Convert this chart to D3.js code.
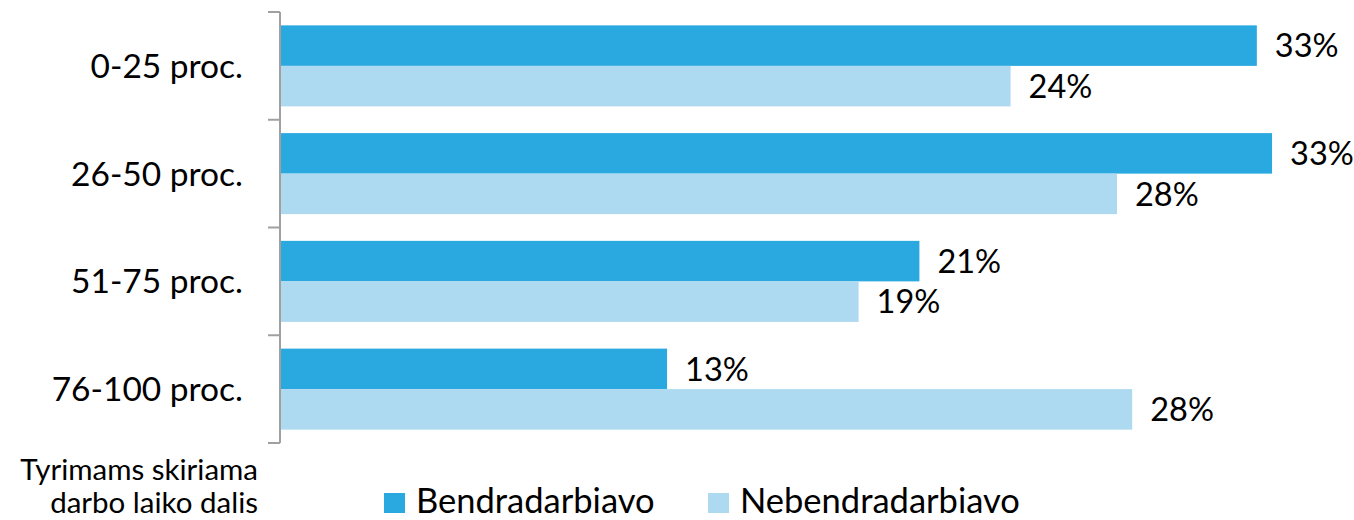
<!DOCTYPE html>
<html>
<head>
<meta charset="utf-8">
<script src="https://cdn.jsdelivr.net/npm/d3@7"></script>
<style>
  body { margin: 0; background: #fff; }
  svg text { font-family: Lato, "Noto Sans", sans-serif; fill: #000; }
</style>
</head>
<body>
<div id="chart"></div>
<script>
// categories (top to bottom)
const categories = ["0-25 proc.", "26-50 proc.", "51-75 proc.", "76-100 proc."];
const seriesNames = ["Bendradarbiavo", "Nebendradarbiavo"];
// bar lengths
const bendradarbiavo = [32.1, 32.6, 21.0, 12.7];
const nebendradarbiavo = [24.0, 27.5, 19.0, 28.0];
// data labels as printed on the chart
const bendradarbiavoLabels = ["33%", "33%", "21%", "13%"];
const nebendradarbiavoLabels = ["24%", "28%", "19%", "28%"];
const colors = ["#29a9e0", "#add9f1"];

const width = 1354, height = 520;

const svg = d3.select("#chart")
    .append("svg")
        .attr("width", width)
        .attr("height", height);

const x = d3.scaleLinear()
    .domain([0, 35])
    .range([281, 281 + 35 * 30.4]);

const y = d3.scaleBand()
    .domain(categories)
    .range([12, 443])
    .padding(0);

const ySub = d3.scaleBand()
    .domain(seriesNames)
    .range([0, y.bandwidth()])
    .paddingInner(0)
    .paddingOuter(0.33);

const rows = categories.map((c, i) => ({
    cat: c,
    bars: [
        {s: seriesNames[0], v: bendradarbiavo[i], label: bendradarbiavoLabels[i], color: colors[0]},
        {s: seriesNames[1], v: nebendradarbiavo[i], label: nebendradarbiavoLabels[i], color: colors[1]}
    ]
}));

// bars
const groups = svg.append("g")
    .selectAll("g")
    .data(rows)
    .enter()
    .append("g")
        .attr("transform", d => `translate(0, ${y(d.cat)})`);

groups.selectAll("rect")
    .data(d => d.bars)
    .enter()
    .append("rect")
        .attr("x", x(0))
        .attr("y", d => ySub(d.s))
        .attr("width", d => x(d.v) - x(0))
        .attr("height", ySub.bandwidth())
        .attr("fill", d => d.color);

groups.selectAll("text.val")
    .data(d => d.bars)
    .enter()
    .append("text")
        .attr("class", "val")
        .attr("x", d => x(d.v) + 18)
        .attr("y", d => ySub(d.s) + ySub.bandwidth() / 2)
        .attr("dy", "0.36em")
        .style("font-size", "32.5px")
        .text(d => d.label);

// y axis with outer ticks between categories
const axis = svg.append("g")
    .attr("transform", `translate(${x(0) - 1}, 0)`);

axis.append("line")
    .attr("x1", 0).attr("x2", 0)
    .attr("y1", 12).attr("y2", 443)
    .attr("stroke", "#a0a0a0")
    .attr("stroke-width", 2);

const tickYs = categories.map(c => y(c)).concat([y(categories[categories.length - 1]) + y.step()]);
axis.selectAll("line.tick")
    .data(tickYs)
    .enter()
    .append("line")
        .attr("class", "tick")
        .attr("x1", -12).attr("x2", 0)
        .attr("y1", d => d).attr("y2", d => d)
        .attr("stroke", "#a0a0a0")
        .attr("stroke-width", 2);

svg.append("g")
    .selectAll("text")
    .data(categories)
    .enter()
    .append("text")
        .attr("x", 243)
        .attr("y", d => y(d) + y.bandwidth() / 2)
        .attr("dy", "0.36em")
        .attr("text-anchor", "end")
        .style("font-size", "33.5px")
        .text(d => d);

// axis title
const title = svg.append("text")
    .attr("text-anchor", "end")
    .style("font-size", "29.5px");
title.append("tspan").attr("x", 258).attr("y", 480).text("Tyrimams skiriama");
title.append("tspan").attr("x", 258).attr("y", 513).text("darbo laiko dalis");

// legend
const legendX = [384, 708];
const legend = svg.append("g")
    .selectAll("g")
    .data(seriesNames)
    .enter()
    .append("g")
        .attr("transform", (d, i) => `translate(${legendX[i]}, 493)`);

legend.append("rect")
    .attr("width", 21)
    .attr("height", 20)
    .attr("fill", (d, i) => colors[i]);

legend.append("text")
    .attr("x", 32)
    .attr("y", 20)
    .style("font-size", "34.5px")
    .text(d => d);
</script>
</body>
</html>
